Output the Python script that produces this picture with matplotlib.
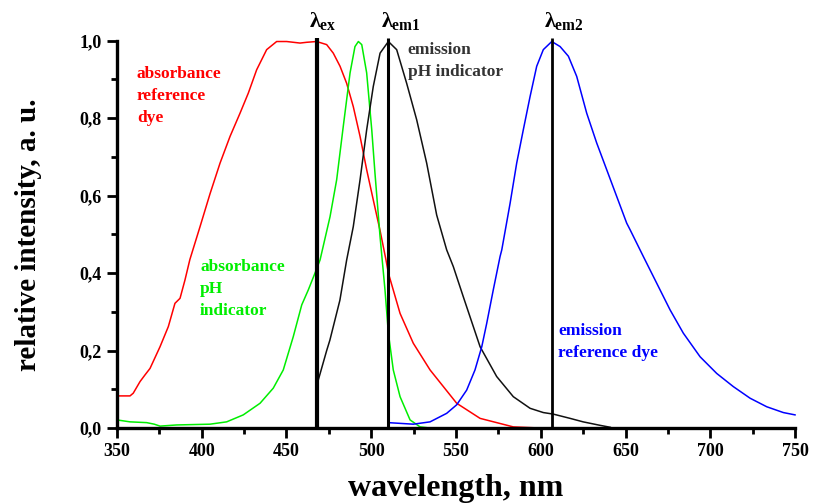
"""
Normalised absorbance and emission spectra of a pH indicator and a
reference dye, with the excitation and the two emission wavelengths marked.
"""

import matplotlib
matplotlib.use("Agg")
import matplotlib.pyplot as plt
from matplotlib.ticker import MultipleLocator

plt.rcParams["font.family"] = ["Liberation Serif", "DejaVu Serif"]
plt.rcParams["font.weight"] = "bold"
plt.rcParams["axes.labelweight"] = "bold"
plt.rcParams["mathtext.fontset"] = "custom"
plt.rcParams["mathtext.rm"] = "Liberation Serif:bold"
plt.rcParams["mathtext.it"] = "Liberation Serif:bold"
plt.rcParams["mathtext.bf"] = "Liberation Serif:bold"

# absorbance, reference dye
abs_ref_x = [350, 357.7, 359.6, 363.6, 366.5, 369.5, 375.4, 380.3, 384.2,
	387.2, 390.1, 393, 399, 404.9, 410.8, 416.7, 422.6, 427.5, 432.4, 438.3,
	444.2, 450.1, 458, 461.9, 467.8, 473.7, 477.6, 481.6, 485.5, 489.4,
	493.4, 497.3, 501.2, 505.2, 508.7, 510.1, 517, 524.8, 534.7, 550.4,
	564.2, 583.8, 600, 700]
abs_ref_y = [0.083, 0.083, 0.09, 0.12, 0.137, 0.154, 0.21, 0.262, 0.322,
	0.335, 0.382, 0.435, 0.52, 0.605, 0.684, 0.753, 0.813, 0.865, 0.925,
	0.977, 0.998, 0.998, 0.994, 0.996, 0.998, 0.99, 0.968, 0.934, 0.89, 0.83,
	0.753, 0.667, 0.589, 0.51, 0.434, 0.4, 0.296, 0.219, 0.15, 0.064, 0.025,
	0.003, 0.0, 0.0]

# absorbance, pH indicator
abs_ph_x = [350, 357.7, 367.5, 372, 375.4, 385.2, 404.9, 414.7, 424.5,
	434.4, 442.2, 448.1, 454, 459, 462.9, 466.8, 469.8, 475.7, 479.6, 483.5,
	487.5, 490.4, 492.4, 494.4, 497.3, 500.3, 502.2, 505.2, 508.1, 510.1, 513,
	517, 522.9, 528.8, 534.7]
abs_ph_y = [0.021, 0.016, 0.014, 0.01, 0.005, 0.008, 0.01, 0.016, 0.034,
	0.064, 0.103, 0.15, 0.236, 0.318, 0.357, 0.4, 0.434, 0.546, 0.641, 0.779,
	0.917, 0.985, 0.998, 0.99, 0.917, 0.77, 0.658, 0.494, 0.357, 0.245, 0.15,
	0.081, 0.021, 0.003, 0.0]

# emission, pH indicator
em_ph_x = [468.5, 473.7, 475.6, 481.5, 485.5, 489.4, 493.4, 497.3, 501.2,
	505.2, 510.1, 515, 520.9, 526.8, 532.7, 538.6, 544.5, 548.4, 554.3,
	564.2, 574, 583.8, 593.7, 601.5, 607.4, 617.3, 625, 635, 641]
em_ph_y = [0.12, 0.2, 0.227, 0.33, 0.434, 0.52, 0.641, 0.77, 0.882, 0.968,
	0.998, 0.977, 0.89, 0.796, 0.684, 0.55, 0.46, 0.417, 0.339, 0.21, 0.133,
	0.081, 0.051, 0.04, 0.036, 0.025, 0.016, 0.007, 0.002]

# emission, reference dye
em_ref_x = [510, 524.8, 534.7, 544.5, 550.4, 556.3, 561.2, 565.2, 568.1,
	572, 576, 577, 581.9, 585.8, 589.7, 593.7, 597.6, 601.5, 606.5, 611.4,
	616.3, 621.2, 627.1, 633, 638.9, 644.8, 650.7, 652.7, 660.5, 668.4,
	676.3, 684.1, 694, 703.8, 713.6, 723.5, 733.3, 743.1, 750]
em_ref_y = [0.014, 0.01, 0.016, 0.038, 0.06, 0.098, 0.15, 0.21, 0.27, 0.357,
	0.443, 0.46, 0.58, 0.684, 0.77, 0.856, 0.934, 0.977, 0.998, 0.985, 0.96,
	0.908, 0.813, 0.736, 0.667, 0.598, 0.529, 0.512, 0.443, 0.374, 0.305,
	0.245, 0.184, 0.141, 0.107, 0.077, 0.055, 0.04, 0.034]

# marked wavelengths
lambda_ex = 468
lambda_em1 = 510
lambda_em2 = 606.5

xticks = [350, 400, 450, 500, 550, 600, 650, 700, 750]
yticks = [0.0, 0.2, 0.4, 0.6, 0.8, 1.0]
yticklabels = ["0,0", "0,2", "0,4", "0,6", "0,8", "1,0"]


def initialize_axes():
	fig = plt.figure(figsize = (8.14, 5.03), dpi = 100)
	ax = fig.add_axes([0.1437, 0.149, 0.8330, 0.770])
	for side in ["top", "right"]:
		ax.spines[side].set_visible(False)
	for side in ["left", "bottom"]:
		ax.spines[side].set_linewidth(2.4)
	ax.set_xlim([350, 750])
	ax.set_ylim([0, 1.0])
	ax.set_xticks(xticks)
	ax.set_xticklabels([str(i) for i in xticks])
	ax.set_yticks(yticks)
	ax.set_yticklabels(yticklabels)
	ax.xaxis.set_minor_locator(MultipleLocator(25))
	ax.yaxis.set_minor_locator(MultipleLocator(0.1))
	ax.tick_params(which = "major", direction = "out", length = 7, width = 2,
		labelsize = 13, pad = 4)
	ax.tick_params(which = "minor", direction = "out", length = 4, width = 2)
	ax.set_xlabel("wavelength, nm", fontsize = 23, labelpad = 10)
	ax.set_ylabel("relative intensity, a. u.", fontsize = 21, labelpad = 27)
	return fig, ax


def draw_spectra(ax):
	ax.plot(abs_ref_x, abs_ref_y, c = "#ff0000", lw = 1.1, clip_on = False)
	ax.plot(abs_ph_x, abs_ph_y, c = "#00ee00", lw = 1.1, clip_on = False)
	ax.plot(em_ph_x, em_ph_y, c = "#111111", lw = 1.1, clip_on = False)
	ax.plot(em_ref_x, em_ref_y, c = "#0000ff", lw = 1.1, clip_on = False)


def draw_markers(ax):
	top = 1.008
	ax.plot([lambda_ex, lambda_ex], [0, top], c = "black", lw = 3,
		clip_on = False, solid_capstyle = "butt")
	ax.plot([lambda_em1, lambda_em1], [0, top], c = "black", lw = 2.2,
		clip_on = False, solid_capstyle = "butt")
	ax.plot([lambda_em2, lambda_em2], [0, top], c = "black", lw = 2,
		clip_on = False, solid_capstyle = "butt")
	for x, sub in [(lambda_ex, "ex"), (lambda_em1, "em1"),
		(lambda_em2, "em2")]:
		ax.text(x - 4.5, 1.022, r"$\lambda_{\rm %s}$" % (sub), fontsize = 16,
			ha = "left", va = "bottom")


def draw_labels(ax):
	kwargs = dict(fontsize = 12.5, va = "center", ha = "left",
		linespacing = 1.5)
	ax.text(361.8, 0.857, "absorbance\nreference\ndye", color = "#ff0000",
		**kwargs)
	ax.text(399, 0.358, "absorbance\npH\nindicator", color = "#00ee00",
		**kwargs)
	ax.text(521.5, 0.947, "emission\npH indicator", color = "#333333",
		**kwargs)
	ax.text(610.2, 0.222, "emission\nreference dye", color = "#0000ff",
		**kwargs)


if __name__ == "__main__":
	fig, ax = initialize_axes()
	draw_spectra(ax)
	draw_markers(ax)
	draw_labels(ax)
	plt.savefig("out.png", dpi = 100)
	plt.clf()
